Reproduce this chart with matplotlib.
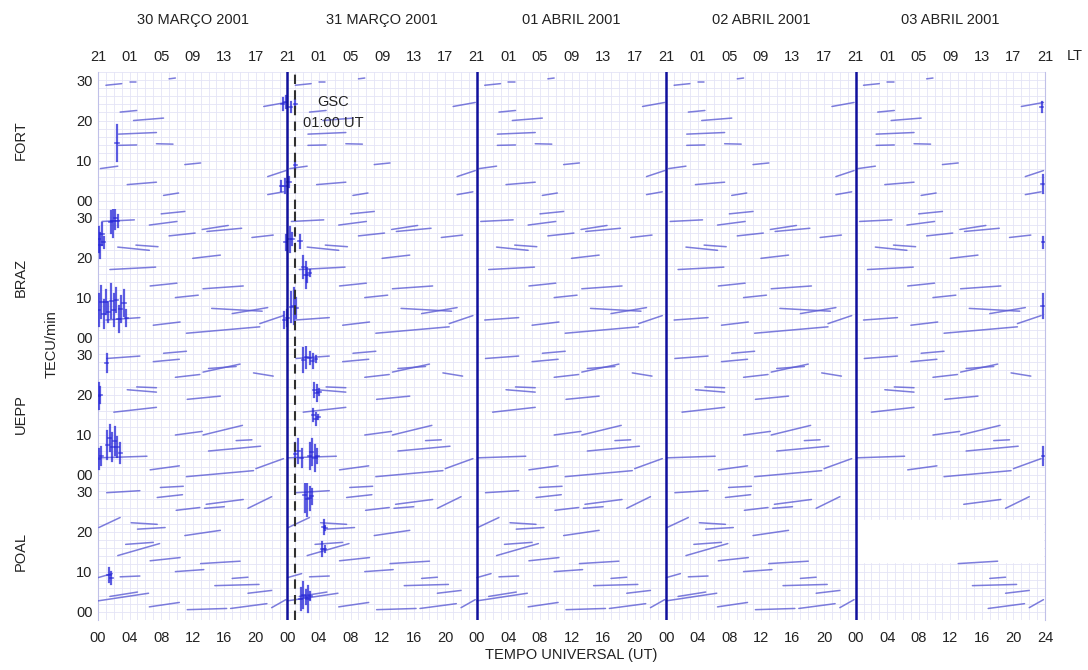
import matplotlib.pyplot as plt
import numpy as np

plt.rcParams['font.family'] = ['Liberation Sans', 'DejaVu Sans']

stations = ["FORT", "BRAZ", "UEPP", "POAL"]
days = ["30 MARÇO 2001", "31 MARÇO 2001", "01 ABRIL 2001", "02 ABRIL 2001", "03 ABRIL 2001"]
ut_labels = ["00", "04", "08", "12", "16", "20"] * 5 + ["24"]
lt_labels = ["21", "01", "05", "09", "13", "17"] * 5 + ["21"]
y_labels = ["00", "10", "20", "30"]

# satellite passes seen every day: (UT start, UT end, level start, level end)
fort_passes = [(4.0, 4.8, 29.6, 29.6), (9.0, 9.8, 30.4, 30.6), (1.0, 3.0, 28.8, 29.2),
               (2.6, 7.4, 16.6, 17.0), (4.5, 8.3, 20.0, 20.6), (2.8, 4.9, 22.1, 22.5),
               (2.6, 4.9, 13.8, 13.9), (7.4, 9.5, 14.2, 14.1), (11.0, 13.0, 9.0, 9.4),
               (3.7, 7.4, 4.0, 4.6), (8.3, 10.2, 1.3, 1.9), (0.3, 2.5, 8.0, 8.6),
               (21.0, 23.8, 23.5, 24.5), (21.5, 23.8, 6.0, 7.5), (21.5, 23.5, 1.5, 2.2)]
braz_passes = [(0.5, 4.6, 29.0, 29.4), (6.5, 10.0, 28.1, 29.0), (8.0, 11.0, 30.9, 31.5),
               (13.2, 16.5, 27.0, 28.0), (13.8, 18.2, 26.5, 27.3), (9.0, 12.3, 25.4, 26.1),
               (19.5, 22.2, 25.0, 25.6), (2.5, 6.5, 22.6, 21.8), (4.8, 7.6, 23.1, 22.7),
               (12.0, 15.5, 19.8, 20.6), (1.5, 7.3, 17.0, 17.6), (6.6, 10.0, 12.9, 13.6),
               (13.3, 18.4, 12.2, 12.9), (9.8, 12.7, 10.0, 10.6), (14.4, 20.8, 7.3, 6.6),
               (17.0, 21.5, 6.0, 7.5), (1.0, 5.3, 4.4, 5.0), (7.0, 10.4, 3.1, 3.9),
               (11.2, 20.5, 1.1, 2.7), (20.5, 23.5, 3.5, 5.5)]
uepp_passes = [(1.1, 5.3, 29.0, 29.6), (8.3, 11.2, 30.3, 30.8), (7.0, 10.3, 28.2, 28.8),
               (13.3, 18.0, 25.6, 27.6), (14.0, 17.5, 26.5, 27.0), (9.8, 12.9, 24.3, 25.0),
               (19.7, 22.2, 25.4, 24.6), (3.7, 7.4, 21.2, 20.6), (4.9, 7.4, 21.9, 21.7),
               (11.3, 15.5, 18.8, 19.6), (2.0, 7.4, 15.6, 16.8), (9.8, 13.2, 9.9, 10.8),
               (13.3, 18.3, 9.9, 12.3), (14.0, 20.6, 5.9, 7.1), (17.5, 19.5, 8.5, 8.7),
               (0.1, 6.2, 4.2, 4.6), (6.6, 10.3, 1.2, 2.2), (11.2, 19.7, -0.5, 1.0),
               (20.0, 23.5, 1.5, 4.0)]
poal_passes = [(1.1, 5.3, 29.7, 30.2), (7.5, 10.7, 28.5, 29.2), (7.9, 10.8, 31.0, 31.3),
               (13.7, 18.4, 26.8, 28.0), (13.5, 16.0, 25.8, 26.2), (9.9, 12.9, 25.3, 26.0),
               (19.0, 22.0, 25.8, 28.7), (0.1, 2.8, 21.0, 23.5), (4.2, 7.5, 22.2, 21.8),
               (5.0, 8.5, 20.6, 21.0), (11.0, 15.5, 19.0, 20.3), (2.5, 7.8, 14.0, 17.0),
               (3.5, 7.0, 16.8, 17.3), (6.6, 10.4, 12.7, 13.5), (13.0, 18.0, 12.0, 12.6),
               (9.8, 13.4, 10.0, 10.5), (0.0, 1.8, 8.5, 9.5), (2.8, 5.3, 8.7, 8.9),
               (14.8, 20.4, 6.5, 6.8), (17.0, 19.0, 8.3, 8.6), (19.0, 22.0, 4.6, 5.3),
               (0.0, 6.4, 2.7, 4.6), (1.5, 5.0, 3.8, 4.9), (6.5, 10.3, 1.2, 2.3),
               (11.3, 16.3, 0.5, 0.8), (16.8, 21.4, 0.8, 2.0), (22.0, 23.8, 1.0, 3.0)]

# irregularity bursts: (UT hours since 30 Mar 00 UT, level low, level high)
fort_bursts = [(2.4, 10.0, 19.0), (23.4, 22.5, 25.5), (23.8, 23.0, 26.0), (24.4, 22.0, 24.5),
               (25.0, 23.0, 25.0), (23.2, 2.5, 5.0), (23.7, 2.0, 5.5), (24.2, 3.5, 6.0),
               (25.0, 8.0, 10.0), (119.6, 22.0, 24.5), (119.7, 2.0, 6.5)]
braz_bursts = [(0.1, 21.5, 27.5), (0.3, 20.0, 26.0), (0.5, 23.0, 28.5), (0.7, 22.5, 25.0),
               (1.6, 26.0, 31.5), (1.9, 25.0, 33.0), (2.2, 27.0, 32.5), (2.5, 27.5, 30.5),
               (0.1, 3.0, 11.0), (0.4, 5.0, 13.0), (0.7, 2.5, 9.5), (1.0, 6.0, 12.0),
               (1.3, 4.0, 9.0), (1.7, 5.0, 13.5), (2.0, 3.0, 11.0), (2.3, 6.5, 12.5),
               (2.6, 1.5, 8.0), (2.9, 4.0, 10.5), (3.3, 5.5, 12.0), (3.6, 3.0, 7.0),
               (23.8, 22.0, 25.5), (24.3, 21.5, 27.5), (24.6, 23.0, 26.0), (25.6, 22.5, 25.5),
               (23.6, 2.5, 6.5), (24.0, 3.0, 7.0), (24.5, 4.0, 11.5), (24.8, 3.5, 12.5),
               (25.1, 5.0, 10.0), (26.0, 15.0, 20.5), (26.3, 12.5, 19.0), (26.5, 14.0, 17.5),
               (26.8, 15.5, 17.0), (119.7, 5.0, 11.0), (119.8, 22.5, 25.0)]
uepp_bursts = [(0.1, 16.5, 23.0), (0.3, 18.0, 22.0), (1.1, 25.5, 30.0),
               (0.1, 1.5, 6.5), (0.4, 2.5, 7.0), (1.2, 4.0, 11.0), (1.5, 6.0, 12.5),
               (1.8, 3.5, 10.5), (2.1, 5.0, 12.0), (2.4, 4.5, 9.5), (2.8, 3.0, 8.0),
               (26.0, 25.5, 31.5), (26.4, 26.5, 32.0), (26.8, 27.5, 30.5), (27.2, 26.5, 30.0),
               (27.6, 28.0, 29.5), (27.4, 19.5, 23.0), (27.7, 18.5, 22.5), (28.0, 20.0, 21.5),
               (27.3, 13.5, 16.5), (27.6, 12.5, 15.5), (27.9, 14.0, 15.0),
               (25.0, 2.5, 8.0), (25.4, 3.0, 9.0), (25.8, 2.0, 6.5), (26.8, 1.5, 8.0),
               (27.1, 2.5, 9.0), (27.5, 1.0, 7.5), (27.8, 3.0, 6.5), (119.8, 2.5, 7.0)]
poal_bursts = [(1.4, 7.5, 11.0), (1.7, 7.0, 10.0),
               (26.2, 25.0, 33.0), (26.5, 24.0, 32.0), (26.8, 25.5, 31.0), (27.1, 27.0, 30.5),
               (28.6, 19.5, 23.0), (28.8, 20.5, 21.5), (28.4, 14.0, 17.5), (28.7, 15.0, 16.5),
               (25.7, 0.5, 6.0), (26.0, 1.0, 7.5), (26.3, 2.0, 5.5), (26.6, 0.0, 6.5),
               (26.9, 3.0, 5.0)]

# POAL has no data on 03 Abril before this time (hours since 30 Mar 00 UT)
poal_missing = (96.0, 112.5)
poal_blank_levels = (12.5, 23.0)

gsc_time = 25.0  # 31 Mar 01:00 UT

passes = [fort_passes, braz_passes, uepp_passes, poal_passes]
bursts = [fort_bursts, braz_bursts, uepp_bursts, poal_bursts]

fig = plt.figure(figsize=(10.88, 6.7), dpi=100)
left, width, top, ph = 0.0901, 0.8704, 0.8925, 0.2045
line_col = '#5c5cd4'
burst_col = '#2626d8'
grid_col = '#e4e4f6'
text_col = '#222222'

axes = []
for i, name in enumerate(stations):
    ax = fig.add_axes([left, top - (i + 1) * ph, width, ph])
    axes.append(ax)
    ax.set_xlim(0, 120)
    ax.set_ylim(-2.1, 32.1)
    ax.set_xticks(np.arange(0, 121, 4))
    ax.set_xticks(np.arange(0, 121, 1), minor=True)
    ax.set_yticks([0, 10, 20, 30])
    ax.set_yticks(np.arange(-2, 33, 2), minor=True)
    ax.set_yticklabels(y_labels)
    ax.grid(which='both', color=grid_col, lw=0.6)
    ax.set_axisbelow(True)
    ax.tick_params(which='both', length=0, labelsize=10.5, colors=text_col)
    ax.tick_params(axis='y', pad=4)
    for s in ax.spines.values():
        s.set_visible(False)
    for side in ['left', 'right']:
        ax.spines[side].set_visible(True)
        ax.spines[side].set_color('#c0c0e8')

    if name == "POAL":
        ax.fill_between([poal_missing[0] + 0.3, 119.7], *poal_blank_levels,
                        color='white', zorder=1)

    for d in range(len(days)):
        for t0, t1, y0, y1 in passes[i]:
            a, b = d * 24 + t0, d * 24 + t1
            if name == "POAL" and b <= poal_missing[1] and a >= poal_missing[0]:
                continue
            ax.plot([a, b], [y0, y1], color=line_col, lw=1.1, alpha=0.8,
                    solid_capstyle='round', zorder=3)

    for t, lo, hi in bursts[i]:
        ax.plot([t, t], [lo, hi], color=burst_col, lw=1.6, alpha=0.75, zorder=3)
        ax.plot([t - 0.2, t + 0.2], [(lo + hi) / 2] * 2, color=burst_col,
                lw=1.2, alpha=0.7, zorder=3)

    for b in [24, 48, 72, 96]:
        ax.axvline(b, color='#10109c', lw=1.8, zorder=4)
    ax.axvline(gsc_time, color='#303030', lw=1.5, dashes=(4.5, 3), zorder=4)

    fig.text(0.019, top - (i + 0.5) * ph, name, rotation=90,
             ha='center', va='center', fontsize=10.5, color=text_col)
    if i < 3:
        ax.set_xticklabels([])

axes[0].xaxis.set_ticks_position('top')
axes[0].set_xticklabels(lt_labels)
axes[0].tick_params(axis='x', pad=6)
axes[3].set_xticklabels(ut_labels)
axes[3].tick_params(axis='x', pad=8)
axes[3].set_xlabel("TEMPO UNIVERSAL (UT)", fontsize=10.5, labelpad=2, color=text_col)

axes[0].text(29.8, 24.5, "GSC", ha='center', va='center', fontsize=10.5, color=text_col, zorder=5)
axes[0].text(29.8, 19.5, "01:00 UT", ha='center', va='center', fontsize=10.5, color=text_col, zorder=5)

for d, label in enumerate(days):
    axes[0].text(d * 24 + 12, 1.38, label, transform=axes[0].get_xaxis_transform(),
                 ha='center', va='center', fontsize=10.5, color=text_col)
axes[0].text(123.8, 1.12, "LT", transform=axes[0].get_xaxis_transform(),
             ha='center', va='center', fontsize=10.5, color=text_col)

fig.text(0.047, 0.487, "TECU/min", rotation=90, ha='center', va='center',
         fontsize=10.5, color=text_col)

fig.savefig("out.png", dpi=100, facecolor='white')
